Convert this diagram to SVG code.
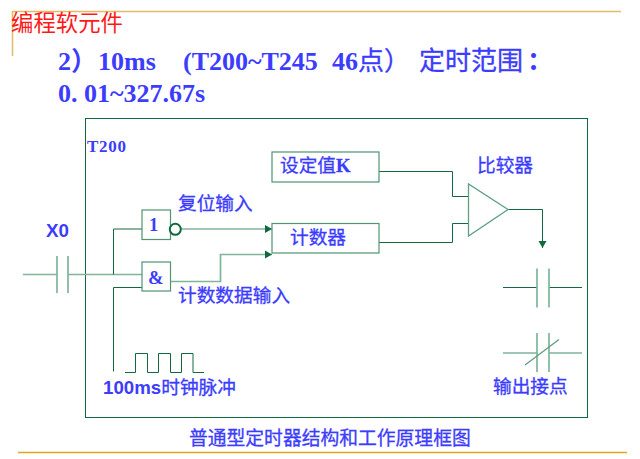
<svg xmlns="http://www.w3.org/2000/svg" width="640" height="459" viewBox="0 0 640 459">
<style>
text{font-family:"Liberation Serif","Noto Sans CJK SC",serif;fill:#3c3cff}
.sans{font-family:"Liberation Sans","Noto Sans CJK SC",sans-serif;font-weight:700}
.b{font-weight:700}
.lab{font-size:18.700px;stroke:#3c3cff;stroke-width:.3px}
.h{font-size:26px;font-weight:700}
.hc{font-size:26px;stroke:#3c3cff;stroke-width:.3px}
.d{fill:none;stroke:#12693f;stroke-width:1}
.s{fill:none;stroke:#7fb59b;stroke-width:1.700}
.box{fill:#fff;stroke:#4f9473;stroke-width:1.200}
</style>
<defs>
<marker id="ah" markerUnits="userSpaceOnUse" markerWidth="9" markerHeight="9" refX="7" refY="4.5" orient="auto"><path d="M0 .5L7 4.5L0 8.5Z" fill="#12693f"/></marker>
</defs>
<rect width="640" height="459" fill="#fff"/>
<g id="slide-rules" fill="none">
<path d="M12.500 56V11.500H621" stroke="#e2bb66" stroke-width="1.500"/>
<path d="M18 452.500H627" stroke="#d9a920" stroke-width="1.500"/>
</g>
<text x="11" y="31" font-size="22.400" style="fill:#ff1a1a">编程软元件</text>
<text class="h" x="58" y="70">2）</text>
<text class="h" x="98" y="70">10ms</text>
<text class="h" x="183" y="70">(T200~T245</text>
<text class="h" x="332" y="70">46</text>
<text class="hc" x="358" y="70">点）</text>
<text class="hc" x="419" y="70">定时范围</text>
<text class="h" x="527" y="70">：</text>
<text class="h" x="58" y="102">0. 01~327.67s</text>
<g id="frame"><rect x="85.500" y="118.500" width="502" height="299" fill="none" stroke="#12693f"/></g>
<text class="b" x="87" y="152" font-size="17" letter-spacing=".7">T200</text>
<g id="connectors">
<path class="s" d="M23 274.500H57M68 274.500H142"/>
<path class="s" d="M57 256V293M68 256V293"/>
<path class="d" d="M113.500 274.500V229H142"/>
<path class="d" d="M142 287.500H113.500V371.500"/>
<path class="d" d="M125 372.500H135.500V353.500H147.500V372.500H158.500V353.500H170.500V372.500H181.500V353.500H193V372.500H204"/>
<path class="s" d="M181 229H272" marker-end="url(#ah)"/>
<path class="s" d="M170 281.500H220.500V254.500H272" marker-end="url(#ah)"/>
<path class="d" d="M379 171.500H452.500V196.500H468"/>
<path class="d" d="M379 242.500H452.500V223.500H468"/>
<path class="d" d="M508 209.500H542.500V248" marker-end="url(#ah)"/>
<path class="d" d="M503 287.500H537M549 287.500H582"/>
<path class="s" d="M537 268.500V307.500M549 268.500V307.500"/>
<path class="s" d="M503 353H537M549 353H582"/>
<path class="s" d="M537 333V372M549 333V372"/>
<path d="M525 365L559 339.500" fill="none" stroke="#5f9f82" stroke-width="1.300"/>
</g>
<g id="contact-x0"><text class="sans" x="46" y="237" font-size="18.800">X0</text></g>
<g id="gate-or"><rect class="box" x="142" y="210" width="28.500" height="29.500"/><text class="b" x="149" y="231" font-size="18.600">1</text>
<circle cx="175.300" cy="229.300" r="5.500" fill="#fff" stroke="#12693f" stroke-width="2"/></g>
<g id="gate-and"><rect class="box" x="142" y="262" width="28.500" height="29"/><text class="b" x="148" y="284" font-size="18.600">&amp;</text></g>
<g id="setpoint"><rect class="box" x="272" y="152" width="107" height="30"/><text class="lab" x="280" y="172">设定值<tspan class="b">K</tspan></text></g>
<g id="counter"><rect class="box" x="272" y="223.500" width="107" height="29.500"/><text class="lab" x="290" y="244">计数器</text></g>
<g id="comparator"><path d="M468.500 184V236L508 209.500Z" fill="#fff" stroke="#5f9f82" stroke-width="1.300"/><text class="lab" x="477" y="172">比较器</text></g>
<text class="lab" x="178" y="210">复位输入</text>
<text class="lab" x="178" y="302">计数数据输入</text>
<text class="sans" x="103" y="394" font-size="18.700">100ms<tspan class="lab" style="font-weight:400">时钟脉冲</tspan></text>
<text class="lab" x="493" y="393">输出接点</text>
<text class="lab" x="189" y="445" font-size="18.800" style="font-size:18.800px">普通型定时器结构和工作原理框图</text>
</svg>
